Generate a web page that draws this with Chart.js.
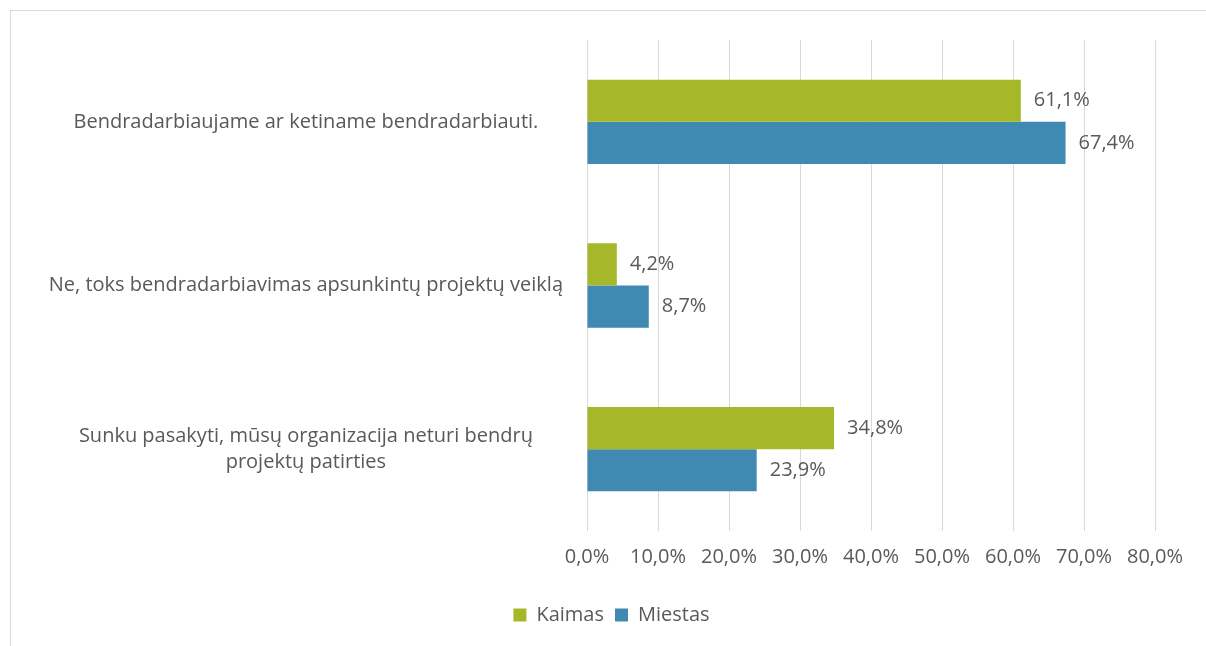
<!DOCTYPE html>
<html>
<head>
<meta charset="utf-8">
<script src="https://cdn.jsdelivr.net/npm/chart.js@4/dist/chart.umd.min.js"></script>
<style>
  html, body { margin: 0; padding: 0; background: #fff; }
  #wrap { position: relative; width: 1206px; height: 646px; }
  #frame { position: absolute; left: 10px; top: 10px; right: 0; bottom: 0; border-top: 1px solid #d9d9d9; border-left: 1px solid #d9d9d9; }
  canvas { position: absolute; left: 0; top: 0; }
</style>
</head>
<body>
<div id="wrap">
  <div id="frame"></div>
  <canvas id="barChart" width="1206" height="646"></canvas>
</div>
<script>
const categories = [
  'Bendradarbiaujame ar ketiname bendradarbiauti.',
  'Ne, toks bendradarbiavimas apsunkintų projektų veiklą',
  ['Sunku pasakyti, mūsų organizacija neturi bendrų', 'projektų patirties']
];
const kaimas = [61.1, 4.2, 34.8];
const miestas = [67.4, 8.7, 23.9];
const xTicks = [0, 10, 20, 30, 40, 50, 60, 70, 80];

const fmt = v => v.toFixed(1).replace('.', ',') + '%';
const font = 'Open Sans';
const textColor = '#595959';

// value labels next to each bar
const barLabels = {
  id: 'barLabels',
  afterDatasetsDraw(chart) {
    const ctx = chart.ctx;
    ctx.save();
    ctx.font = '20px "' + font + '"';
    ctx.fillStyle = textColor;
    ctx.textAlign = 'left';
    ctx.textBaseline = 'middle';
    chart.data.datasets.forEach((ds, i) => {
      chart.getDatasetMeta(i).data.forEach((bar, j) => {
        ctx.fillText(fmt(ds.data[j]), bar.x + 13, bar.y);
      });
    });
    ctx.restore();
  }
};

// legend sits a bit right of the canvas centre in the original
const nudgeLegend = {
  id: 'nudgeLegend',
  afterLayout(chart) {
    chart.legend.left += 24;
    chart.legend.right += 24;
  }
};

Chart.defaults.font.family = font;
Chart.defaults.font.size = 20;
Chart.defaults.color = textColor;

new Chart(document.getElementById('barChart').getContext('2d'), {
  type: 'bar',
  data: {
    labels: categories,
    datasets: [
      { label: 'Kaimas', data: kaimas, backgroundColor: '#a6b82a', categoryPercentage: 0.515, barPercentage: 1 },
      { label: 'Miestas', data: miestas, backgroundColor: '#4089b2', categoryPercentage: 0.515, barPercentage: 1 }
    ]
  },
  options: {
    indexAxis: 'y',
    responsive: false,
    animation: false,
    layout: { padding: { left: 20, right: 51, top: 40, bottom: 11 } },
    plugins: {
      legend: {
        position: 'bottom',
        labels: { boxWidth: 13, boxHeight: 13, padding: 11, color: textColor }
      },
      tooltip: { enabled: false }
    },
    scales: {
      x: {
        min: 0, max: 80,
        afterBuildTicks: s => { s.ticks = xTicks.map(v => ({ value: v })); },
        afterFit: s => { s.height = 63; },
        ticks: { callback: v => fmt(v), padding: 14, maxRotation: 0 },
        grid: { color: '#d9d9d9', drawTicks: false },
        border: { display: false }
      },
      y: {
        afterFit: s => { s.width = 567; s.paddingTop = 0; s.paddingBottom = 0; },
        ticks: { crossAlign: 'center', padding: 24, font: { lineHeight: 1.3 } },
        grid: { display: false, drawTicks: false },
        border: { display: false }
      }
    }
  },
  plugins: [barLabels, nudgeLegend]
});
</script>
</body>
</html>
